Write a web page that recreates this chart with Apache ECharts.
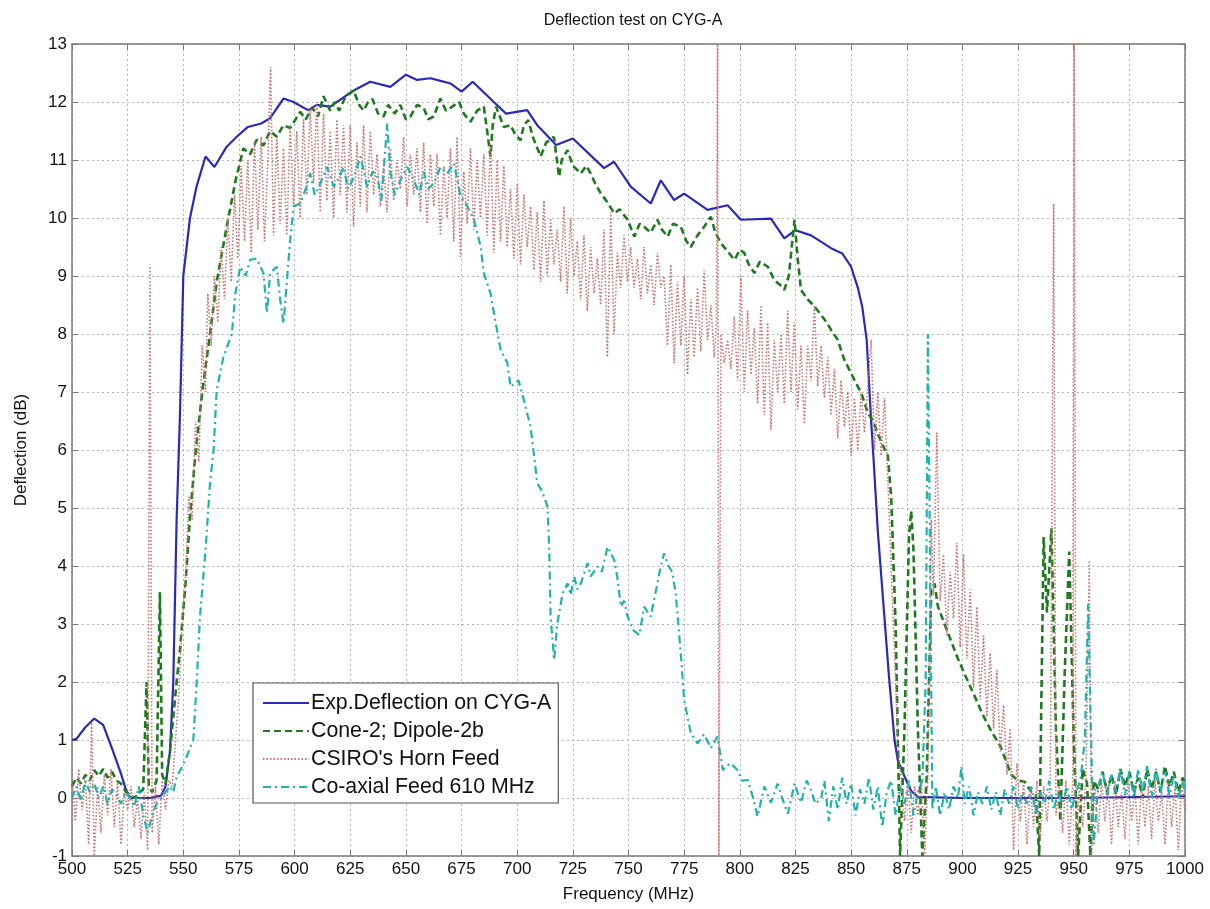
<!DOCTYPE html>
<html><head><meta charset="utf-8">
<script src="https://cdn.jsdelivr.net/npm/echarts@6/dist/echarts.min.js"></script>
<style>html,body{margin:0;padding:0;background:#fff}#c{width:1210px;height:909px}</style>
</head><body><div id="c"></div>
<script>
const chartTitle = 'Deflection test on CYG-A';
const xName = 'Frequency (MHz)';
const yName = 'Deflection (dB)';
const seriesNames = ['Exp.Deflection on CYG-A', 'Cone-2; Dipole-2b', "CSIRO's Horn Feed", 'Co-axial Feed 610 MHz'];
const xRange = [500, 1000, 25];
const yRange = [-1, 13, 1];

const expDeflection = [[500,1.0],[502,1.02],[506,1.22],[510,1.37],[514,1.26],[518,0.85],[522,0.42],[525,0.05],[527,0.0],[535,0.0],[540,0.04],[542,0.2],[544,0.8],[545.5,2.0],[547,4.8],[548.5,6.6],[550,9.0],[553,10.0],[556,10.55],[560,11.06],[564,10.88],[569.5,11.23],[574,11.4],[579,11.57],[585,11.63],[589,11.72],[595,12.06],[599.5,12.0],[606,11.86],[610,11.95],[616,11.92],[623.5,12.12],[628,12.23],[634,12.35],[643,12.26],[650,12.47],[655,12.38],[661,12.41],[666,12.36],[670,12.32],[675,12.18],[680,12.35],[689.5,12.0],[695,11.8],[704.5,11.86],[709,11.6],[717.5,11.26],[725,11.37],[739,10.86],[743.5,10.97],[751,10.54],[760,10.25],[764.5,10.65],[770.5,10.31],[775,10.42],[785.5,10.14],[794.5,10.22],[800.5,9.97],[814,9.99],[820,9.65],[825,9.79],[832,9.7],[841,9.48],[846,9.39],[850,9.16],[853,8.8],[855,8.47],[857,7.9],[859,6.5],[860,5.9],[862,4.6],[865,3.1],[867,2.1],[869.5,1.0],[871,0.65],[874,0.37],[877,0.12],[880,0.02],[900,0.0],[950,0.0],[1000,0.03]];

const coneDipole = [[500,0.2],[502,0.35],[504,0.25],[506,0.4],[508,0.3],[510,0.48],[512,0.38],[514,0.5],[516,0.35],[518,0.45],[520,0.3],[522,0.25],[524,0.12],[526,0.05],[528,0.0],[530,0.08],[532,0.15],[533.5,2.0],[534.5,0.2],[536,0.1],[538,0.3],[539.5,3.55],[540.5,0.4],[542,0.25],[544,0.8],[545.5,1.4],[547,2.0],[548.5,2.55],[551,3.7],[553,4.85],[555.5,5.95],[558.5,7.0],[562,8.0],[565,8.9],[569.5,9.85],[573.5,10.65],[577,11.2],[580,11.1],[583,11.35],[586,11.25],[589,11.5],[592,11.4],[595,11.6],[598,11.55],[602.5,11.83],[605,11.7],[608,11.9],[610.5,11.75],[613,12.1],[616,11.85],[618,12.0],[620,11.85],[623,12.1],[626.5,12.2],[629,11.95],[631,11.85],[633,12.0],[635,12.05],[637.5,11.8],[640,11.75],[642,11.95],[645,11.8],[647.5,11.95],[650,11.7],[652,11.75],[655,11.95],[658,11.9],[660,11.7],[662.5,11.75],[665.5,12.06],[668,11.85],[670,11.9],[673.9,12.0],[676,11.8],[679,11.66],[682,11.85],[685,11.92],[686.5,11.5],[688,11.06],[689,11.6],[690.5,11.92],[694,11.57],[697,11.6],[699,11.45],[701.5,11.34],[703,11.6],[705,11.69],[707,11.4],[710.5,11.06],[713,11.3],[716.5,11.4],[718.8,10.71],[720,11.0],[722.6,11.17],[725,10.9],[728.6,10.77],[731,10.9],[733,10.77],[735,10.6],[737.6,10.42],[740,10.3],[743.6,10.08],[746,10.15],[749.6,9.97],[752.6,9.68],[755,9.9],[757,9.85],[760,9.75],[763,9.97],[765,9.8],[767.6,9.68],[770,9.9],[773.5,9.85],[776,9.6],[778,9.5],[781,9.7],[784,9.85],[787,10.02],[789,9.75],[791.6,9.56],[794,9.45],[797.6,9.28],[800,9.45],[802,9.4],[804,9.2],[806.6,9.05],[809,9.25],[812.6,9.16],[815.5,8.93],[818,8.85],[820,8.76],[822,9.0],[824.6,9.97],[826,9.3],[827.5,8.76],[830.6,8.59],[833,8.5],[836.5,8.33],[839,8.2],[841,8.07],[844,7.9],[847,7.55],[849,7.4],[851.6,7.2],[854.6,6.98],[857.6,6.63],[860,6.5],[862,6.28],[864,6.1],[866.5,5.9],[868,5.2],[870,3.0],[872,-1.0],[874,1.2],[876,4.5],[877,4.95],[878,4.3],[880,1.2],[882,-1.0],[884,0.4],[886,3.6],[887.5,3.7],[889,3.3],[891,3.1],[895,2.7],[898,2.4],[902,2.05],[905,1.8],[909,1.45],[913,1.15],[917,0.9],[920,0.6],[922,0.4],[925,0.3],[928,0.28],[931,0.1],[933,0.05],[934.5,-1.0],[936.5,4.5],[938,3.2],[940,4.65],[942,1.2],[944,-0.4],[946,2.2],[948,4.25],[950,1.0],[952,-1.0],[954,0.5],[956,0.25],[957.5,-1.0],[959,0.3],[961,0.15],[963,0.45],[965,0.1],[967,0.4],[969,0.05],[971,0.5],[973,0.2],[975,0.45],[977,0.1],[979,0.35],[981,0.0],[983,0.5],[985,0.15],[987,0.45],[989,0.1],[991,0.55],[993,0.2],[995,0.45],[997,0.1],[999,0.35],[1000,0.25]];

const csiroHorn = [[500,0.3],[501.5,-0.4],[503,0.5],[504.5,-0.2],[506,0.3],[507.5,-0.8],[508.8,1.3],[510,-1.0],[511.5,0.2],[513,-0.6],[514.5,0.4],[516,-0.3],[517.5,0.5],[519,-0.5],[520.5,0.3],[522,-0.8],[523.5,0.1],[525,-0.2],[526.5,0.2],[528,-0.5],[529.5,0.0],[531,-0.7],[532.5,0.1],[534,-0.9],[535,9.2],[536,-0.6],[537.5,0.2],[539,-0.8],[540.5,0.3],[542,-0.2],[543.5,0.3],[545,0.2],[546.5,1.0],[548,1.8],[549.5,3.0],[551,3.8],[552.5,5.2],[554,4.8],[555.5,6.5],[557,5.8],[558.5,7.8],[560,7.0],[561,8.7],[562.5,7.8],[564,9.0],[565.5,8.2],[567,9.5],[568.5,8.6],[570,10.0],[571.5,8.9],[573,10.4],[574.5,9.3],[576,10.9],[577.5,9.6],[579,11.0],[580.5,9.4],[582,11.3],[583.5,9.8],[585,11.4],[586.5,9.6],[588,11.0],[589.2,12.6],[590.5,9.7],[592,11.4],[593.5,9.9],[595,11.2],[596.5,9.7],[598,11.6],[599.5,10.2],[601,11.5],[602.5,10.0],[604,11.7],[605.5,10.4],[607,11.9],[608.5,10.6],[610,12.0],[611.5,10.1],[613,11.8],[614.5,10.3],[616,11.5],[617.5,10.0],[619,11.7],[620.5,10.4],[622,11.6],[623.5,10.1],[625,11.6],[626.5,9.85],[628,11.3],[629.5,10.2],[631,11.6],[632.5,10.1],[634,11.5],[635.5,10.4],[637,11.1],[638.5,10.2],[640,10.9],[641.5,10.1],[643,11.2],[644.5,10.3],[646,11.0],[647.5,10.5],[649,11.4],[650.5,10.2],[652,11.1],[653.5,10.4],[655,11.2],[656.5,10.1],[658,11.3],[659.5,9.9],[661,11.1],[662.5,10.2],[664,11.1],[665.5,9.7],[667,10.9],[668.5,10.0],[670,11.2],[671.5,9.6],[673,11.4],[674.5,9.33],[676,10.8],[677.5,9.9],[679,11.2],[680.5,9.8],[682,11.0],[683.5,10.0],[685,11.1],[686.5,9.7],[688,11.3],[689.5,9.4],[691,11.0],[692.5,9.6],[694,10.9],[695.5,9.5],[697,10.5],[698.5,9.3],[700,10.6],[701.5,9.2],[703,10.4],[704.5,9.5],[706,10.2],[707.5,9.1],[709,10.1],[710.5,8.9],[712,10.3],[713.5,9.0],[715,10.0],[716.5,9.2],[718,9.8],[719.5,8.9],[721,10.2],[722.5,8.7],[724,10.0],[725.5,9.0],[727,9.6],[728.5,8.6],[730,9.7],[731.5,8.4],[733,9.5],[734.5,8.7],[736,9.3],[737.5,8.5],[739,9.8],[740.5,7.6],[742,10.1],[743.5,8.0],[745,9.4],[746.5,8.8],[748,9.7],[749.5,8.9],[751,9.5],[752.5,8.8],[754,9.3],[755.5,8.6],[757,9.5],[758.5,8.7],[760,9.2],[761.5,8.5],[763,9.4],[764.5,8.8],[766,9.0],[767.5,7.8],[769,9.2],[770.5,7.5],[772,8.9],[773.5,7.8],[775,9.0],[776.5,7.3],[778,8.6],[779.5,7.6],[781,8.8],[782.5,7.7],[784,9.1],[785.5,7.9],[787,8.5],[788.5,7.6],[789.5,8.2],[790,13.0],[790.6,-1.0],[791.5,8.0],[793,7.5],[794.5,7.9],[796,7.4],[797.5,8.3],[799,7.2],[800.5,9.0],[802,7.0],[803.5,8.4],[805,7.3],[806.5,8.1],[808,6.8],[809.5,8.5],[811,6.6],[812.5,8.2],[814,6.35],[815.5,7.9],[817,7.0],[818.5,8.0],[820,6.8],[821.5,8.4],[823,7.0],[824.5,8.2],[826,6.7],[827.5,7.8],[829,6.45],[830.5,7.8],[832,7.2],[833.5,8.5],[835,7.1],[836.5,7.8],[838,6.9],[839.5,7.6],[841,6.6],[842.5,7.4],[844,6.2],[845.5,7.2],[847,6.4],[848.5,7.0],[850,5.9],[851.5,6.9],[853,6.0],[854.5,7.0],[856,6.3],[857.5,7.1],[859,7.9],[860.5,6.0],[862,7.0],[863.5,5.9],[865,6.9],[866.5,5.5],[868,4.0],[869.5,2.5],[871,1.0],[872.5,0.3],[874,-0.4],[875.5,0.3],[877,-0.6],[878.5,0.2],[880,-0.3],[881.5,0.3],[883,-1.0],[884.5,0.4],[886,4.8],[887,3.5],[888.5,6.3],[890,3.4],[891.5,4.2],[893,2.8],[894.5,3.9],[896,3.1],[897.5,4.4],[899,2.6],[900.5,4.2],[902,2.4],[903.5,3.6],[905,1.9],[906.5,3.3],[908,1.7],[909.5,2.8],[911,1.4],[912.5,2.5],[914,1.2],[915.5,2.2],[917,0.8],[918.5,1.6],[920,0.4],[921.5,1.2],[923,-0.9],[924.5,0.6],[926,-0.4],[927.5,0.3],[929,-0.8],[930.5,0.2],[932,-0.5],[933.5,0.3],[935,-0.7],[936.5,0.2],[938,-0.4],[939.5,0.3],[941,10.25],[942,-0.3],[943.5,0.2],[945,-0.6],[946.5,0.3],[948,-0.8],[949.5,0.2],[950.2,13.0],[951,-1.0],[952.5,0.2],[954,-0.5],[955.5,0.3],[957,4.1],[958,-1.0],[959.5,0.2],[961,-0.6],[962.5,0.3],[964,-0.4],[965.5,0.2],[967,-0.8],[968.5,0.3],[970,-0.5],[971.5,0.1],[973,-0.7],[974.5,0.3],[976,-0.4],[977.5,0.2],[979,-0.8],[980.5,0.3],[982,-0.5],[983.5,0.2],[985,-0.7],[986.5,0.3],[988,-0.4],[989.5,0.1],[991,-0.8],[992.5,0.3],[994,-0.5],[995.5,0.2],[997,-0.9],[998.5,0.3],[1000,-0.2]];

const coaxialFeed = [[500,0.0],[502,0.2],[504,-0.05],[506,0.3],[508,0.1],[510,0.25],[512,0.0],[514,0.2],[516,-0.1],[518,0.15],[520,0.05],[522,-0.1],[524,0.1],[526,0.0],[528,-0.15],[530,0.2],[532,-0.3],[534,-0.6],[536,-0.3],[538,-0.1],[540,0.0],[542,0.1],[544,0.2],[545.5,0.1],[547,0.37],[549,0.5],[551.5,0.71],[554.5,1.0],[556,1.98],[557.5,3.13],[560,4.28],[562,5.43],[563.6,6.0],[565,7.03],[568,7.6],[571.8,8.0],[573.4,8.7],[575.6,9.16],[578,9.0],[580,9.28],[583,9.3],[586,9.05],[587.6,8.36],[589,9.05],[592,9.16],[593.5,8.6],[595,8.18],[596.5,8.9],[598,9.62],[599.6,10.2],[602.6,10.25],[605,10.5],[607,10.77],[609,10.4],[611.6,10.6],[614.6,10.88],[617.6,10.54],[620,10.7],[622,10.88],[624,10.5],[626.6,10.7],[629.6,11.06],[632.6,10.54],[635,10.8],[637,10.75],[639,10.3],[641.6,11.63],[643,10.8],[645,10.4],[647.6,10.66],[650.6,10.88],[653.6,10.66],[656,10.4],[658,10.8],[660,10.5],[662.6,10.6],[665.5,10.88],[668.6,10.77],[671.6,10.94],[674.6,10.37],[677.6,10.2],[680.6,9.97],[683.6,9.5],[685,9.05],[688,8.7],[690.4,8.18],[692.6,7.72],[695.6,7.5],[697,7.09],[700.6,7.2],[703,6.86],[706,6.4],[707.6,5.9],[709,5.43],[711,5.3],[713.6,5.03],[714.4,4.28],[715,3.13],[716.6,2.38],[718,3.0],[720.4,3.53],[722.6,3.7],[724,3.5],[725.6,3.82],[727,3.6],[728.6,3.7],[731.6,4.05],[733,3.82],[736,3.99],[738,3.9],[740.6,4.33],[743.6,4.1],[745,3.8],[746.6,3.3],[748,3.4],[749.6,3.13],[751.9,2.9],[754.9,2.81],[757,3.3],[760,3.13],[762.4,3.59],[764,3.9],[766,4.22],[768,4.0],[769.6,3.9],[771.2,3.53],[772.1,3.13],[773.6,2.44],[775,1.69],[778,1.12],[781,0.94],[784,1.1],[787,0.86],[790,1.06],[792.4,0.48],[794,0.55],[796,0.6],[799,0.48],[801,0.3],[803.6,0.31],[806,0.0],[808,-0.32],[811,0.2],[814,-0.08],[817,0.25],[819,0.0],[821.6,-0.27],[824.6,0.25],[827.5,-0.08],[830,0.3],[832,0.14],[834,-0.1],[836.6,0.0],[838,0.3],[840,-0.4],[842,0.2],[844,-0.2],[846,0.35],[848,-0.1],[850,0.25],[852,-0.3],[854,0.15],[856,-0.1],[858,0.35],[860,-0.2],[862,0.2],[864,-0.5],[866,0.1],[868,0.3],[870,-0.3],[872,0.2],[874,-0.1],[876,0.3],[878,-0.3],[880,0.1],[882,0.3],[883.5,2.0],[884.5,8.0],[885.5,4.0],[886.5,-0.2],[888,0.2],[890,-0.3],[892,0.1],[894,-0.2],[896,0.2],[898,0.0],[899.6,0.55],[901,-0.1],[903,0.2],[905,-0.3],[907,0.1],[909,-0.1],[911,0.2],[913,-0.2],[915,0.1],[917,-0.3],[919,0.15],[921,-0.1],[923,0.2],[925,-0.2],[927,0.1],[929,-0.1],[931,0.2],[933,-0.3],[935,0.1],[937,-0.1],[939,0.3],[941,-0.2],[943,0.1],[945,-0.1],[947,0.2],[949,-0.2],[951,0.1],[953,0.3],[955,1.0],[956.5,3.35],[957.5,1.5],[959,-0.8],[961,0.2],[963,0.45],[965,0.05],[967,0.4],[969,0.1],[971,0.5],[973,0.05],[975,0.45],[977,0.0],[979,0.5],[981,0.1],[983,0.55],[985,0.0],[987,0.5],[989,0.1],[991,0.45],[993,0.05],[995,0.4],[997,0.0],[999,0.3],[1000,0.1]];

const FONT = '"Liberation Sans", Arial, sans-serif';
const frameColor = '#7a7a7a';
const chart = echarts.init(document.getElementById('c'), null, {renderer: 'canvas'});

function baseAxis(extra) {
  return Object.assign({
    type: 'value',
    axisLine: {show: true, onZero: false, lineStyle: {color: frameColor, width: 1.5}},
    axisTick: {show: true, inside: true, length: 6, lineStyle: {color: frameColor, width: 1}},
    splitLine: {show: false}
  }, extra);
}
const plainNum = v => String(v);

const option = {
  backgroundColor: '#ffffff',
  animation: false,
  title: {
    text: chartTitle, left: 628, top: 8, textAlign: 'center',
    textStyle: {fontFamily: FONT, fontSize: 16, fontWeight: 'normal', color: '#111'}
  },
  grid: {left: 72, right: 25, top: 44, bottom: 53, containLabel: false},
  legend: {
    orient: 'vertical', left: 253, top: 683,
    data: seriesNames,
    itemWidth: 46, itemHeight: 14, itemGap: 6,
    padding: [9, 7, 5, 9],
    itemStyle: {opacity: 0, borderWidth: 0},
    backgroundColor: '#ffffff', borderColor: '#555', borderWidth: 1.2, borderRadius: 0,
    textStyle: {fontFamily: FONT, fontSize: 21.3, color: '#111', lineHeight: 22, padding: [0,0,0,-3]}
  },
  xAxis: [
    baseAxis({
      position: 'bottom', min: xRange[0], max: xRange[1], interval: xRange[2],
      name: xName, nameLocation: 'middle', nameGap: 30,
      nameTextStyle: {fontFamily: FONT, fontSize: 17, color: '#111'},
      axisLabel: {fontFamily: FONT, fontSize: 17, color: '#111', margin: 5, formatter: plainNum},
      splitLine: {show: true, lineStyle: {color: '#b5b5b5', type: [2, 3], width: 1}}
    }),
    baseAxis({position: 'top', min: xRange[0], max: xRange[1], interval: xRange[2], axisLabel: {show: false}})
  ],
  yAxis: [
    baseAxis({
      position: 'left', min: yRange[0], max: yRange[1], interval: yRange[2],
      name: yName, nameLocation: 'middle', nameGap: 42, nameRotate: 90,
      nameTextStyle: {fontFamily: FONT, fontSize: 17, color: '#111'},
      axisLabel: {fontFamily: FONT, fontSize: 17, color: '#111', margin: 5, formatter: plainNum},
      splitLine: {show: true, lineStyle: {color: '#b5b5b5', type: [2, 3], width: 1}}
    }),
    baseAxis({position: 'right', min: yRange[0], max: yRange[1], interval: yRange[2], axisLabel: {show: false}})
  ],
  series: [
    {name: seriesNames[0], type: 'line', data: expDeflection, showSymbol: false, symbol: 'none', clip: true,
     lineStyle: {color: '#2a2ab8', width: 2.2, type: 'solid'}, itemStyle: {color: '#2a2ab8'}, z: 2},
    {name: seriesNames[1], type: 'line', data: coneDipole, showSymbol: false, symbol: 'none', clip: true,
     lineStyle: {color: '#1f7a1f', width: 2.6, type: [7, 4]}, itemStyle: {color: '#1f7a1f'}, z: 3},
    {name: seriesNames[2], type: 'line', data: csiroHorn, showSymbol: false, symbol: 'none', clip: true,
     lineStyle: {color: '#cf6f6f', width: 1.6, type: [1.5, 2]}, itemStyle: {color: '#cf6f6f'}, z: 4},
    {name: seriesNames[3], type: 'line', data: coaxialFeed, showSymbol: false, symbol: 'none', clip: true,
     lineStyle: {color: '#1fb3b0', width: 2.2, type: [8, 4, 2, 4]}, itemStyle: {color: '#1fb3b0'}, z: 5}
  ]
};
chart.setOption(option);
</script>
</body></html>
